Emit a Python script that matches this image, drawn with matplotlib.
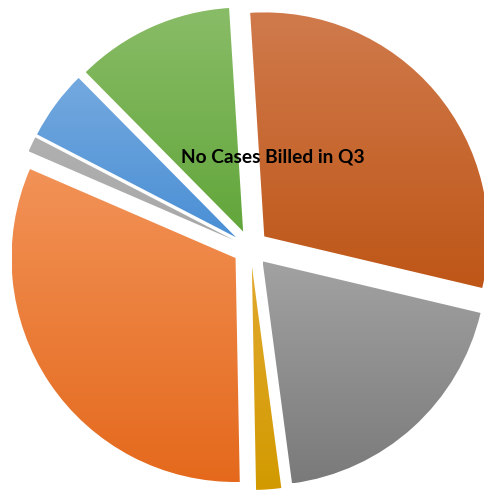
import numpy as np
import matplotlib
matplotlib.use('Agg')
import matplotlib.pyplot as plt
from matplotlib.colors import LinearSegmentedColormap

# DATA (share of cases, clockwise from the top)
labels = ['A', 'B', 'C', 'D', 'E', 'F', 'G']
values = [29.7, 19.2, 1.8, 31.8, 1.1, 5.0, 11.4]
top_colors = ['#D07A4C', '#A2A2A2', '#E2A92E', '#F29257', '#B0B0B0', '#74A9DF', '#89BC67']
bottom_colors = ['#BE5617', '#7A7A7A', '#D29A00', '#E4691C', '#A8A8A8', '#4A8FD5', '#62A63B']
title = 'No Cases Billed in Q3'

W, H = 484, 491

fig = plt.figure(figsize=(W / 100, H / 100), dpi=100)
ax = fig.add_axes([0, 0, 1, 1])

# pie drawn in pixel units so the layout matches the reference
wedges, _ = ax.pie(values, center=(250.5, H - 248), radius=224,
                   explode=[18] * len(values), startangle=93.6,
                   counterclock=False, frame=False)

# vertical gradient fill for each slice
grad = np.linspace(0, 1, 256).reshape(-1, 1)
for w, c_top, c_bot in zip(wedges, top_colors, bottom_colors):
    w.set_facecolor('none')
    w.set_edgecolor('none')
    x0, y0, x1, y1 = w.get_path().get_extents().extents
    cmap = LinearSegmentedColormap.from_list('g', [c_bot, c_top])
    im = ax.imshow(grad, cmap=cmap, origin='lower', aspect='auto',
                   extent=[x0, x1, y0, y1], interpolation='bilinear', zorder=1)
    im.set_clip_path(w)

ax.text(273, H - 157, title, ha='center', va='center', fontsize=13.8,
        fontweight='bold', family=['Lato', 'DejaVu Sans'], color='black', zorder=5)

ax.set_xlim(0, W)
ax.set_ylim(0, H)
ax.set_aspect('auto')
ax.axis('off')

plt.savefig('out.png', dpi=100)
